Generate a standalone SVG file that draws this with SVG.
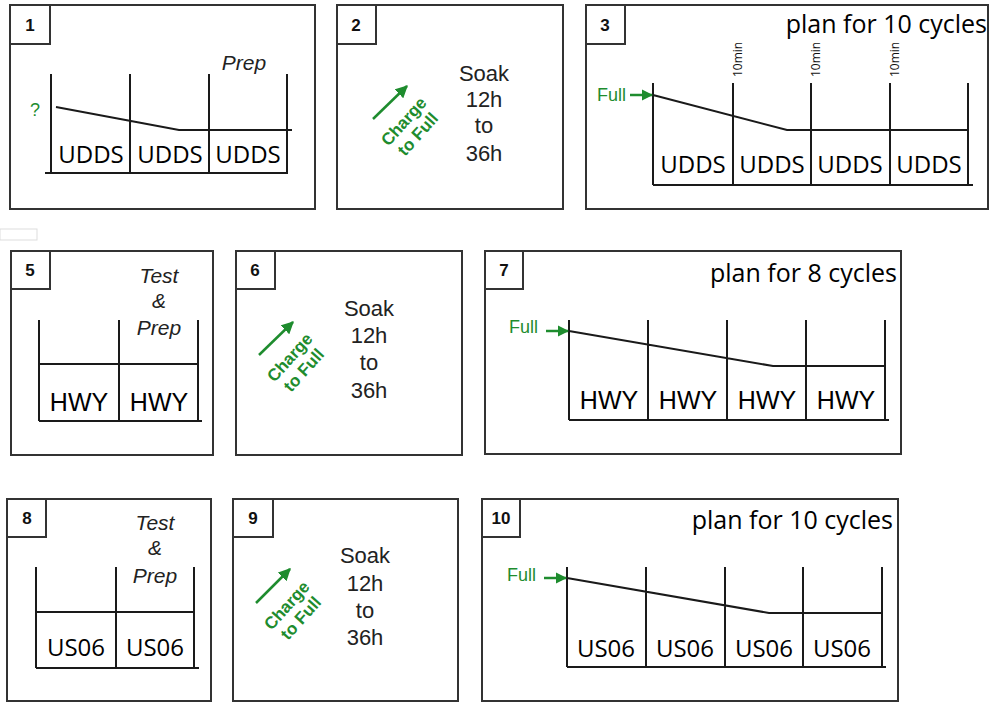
<svg xmlns="http://www.w3.org/2000/svg" width="989" height="702" viewBox="0 0 989 702">
<defs>
<marker id="ah" viewBox="0 0 10 10" refX="9" refY="5" markerWidth="5" markerHeight="5" orient="auto" markerUnits="strokeWidth">
<path d="M0,0 L10,5 L0,10 z" fill="#1e8c2e"/>
</marker>
<marker id="ah2" viewBox="0 0 10 10" refX="9" refY="5" markerWidth="4.5" markerHeight="4.5" orient="auto" markerUnits="strokeWidth">
<path d="M0,0 L10,5 L0,10 z" fill="#1e8c2e"/>
</marker>
</defs>
<style>
.frame{fill:#fff;stroke:#333;stroke-width:2}
.nbox{fill:#fff;stroke:#333;stroke-width:2}
.num{font-family:"Liberation Sans",Arial,sans-serif;font-weight:bold;font-size:17px;fill:#111;text-anchor:middle}
.ln{fill:none;stroke:#1a1a1a;stroke-width:2}
.cyc{font-family:"Open Sans",sans-serif;font-size:24px;fill:#000;text-anchor:middle}
.hwy{font-family:"Liberation Sans",Arial,sans-serif;font-size:25px;fill:#000;text-anchor:middle}
.plan{font-family:"Open Sans",sans-serif;font-size:25px;fill:#000;text-anchor:end}
.ital{font-family:"Liberation Sans",Arial,sans-serif;font-style:italic;font-size:21px;fill:#222;text-anchor:middle}
.soak{font-family:"Liberation Sans",Arial,sans-serif;font-size:22px;fill:#222;text-anchor:middle}
.chg{font-family:"Liberation Sans",Arial,sans-serif;font-weight:bold;font-size:17px;fill:#1e8c2e;text-anchor:middle}
.full{font-family:"Liberation Sans",Arial,sans-serif;font-size:18px;fill:#1e8c2e}
.garr{fill:none;stroke:#1e8c2e;stroke-width:2.5}
.tmin{font-family:"Open Sans",sans-serif;font-size:12px;fill:#111}
</style>

<rect x="0" y="229" width="37" height="11" fill="none" stroke="#ddd" stroke-width="1"/>

<g id="panel1">
<rect class="frame" x="10" y="5" width="305" height="204"/>
<rect class="nbox" x="10" y="5" width="40" height="39"/>
<text class="num" x="30" y="31">1</text>
<path class="ln" d="M51,74 V173 M130,74 V173 M209,74 V173 M287,74 V173 M45,173 H288 M56,107 L179,130 H292"/>
<text x="35" y="116" style="font-family:'Liberation Sans',Arial,sans-serif;font-size:18px;fill:#1e8c2e;text-anchor:middle">?</text>
<text class="ital" x="244" y="70">Prep</text>
<text class="cyc" x="91" y="163">UDDS</text>
<text class="cyc" x="170" y="163">UDDS</text>
<text class="cyc" x="248" y="163">UDDS</text>
</g>

<g id="panel2">
<rect class="frame" x="337" y="5" width="226" height="204"/>
<rect class="nbox" x="337" y="5" width="39" height="39"/>
<text class="num" x="356" y="31">2</text>
<line class="garr" x1="373" y1="119" x2="407" y2="86" marker-end="url(#ah)"/>
<g transform="translate(411,128) rotate(-48)">
<text class="chg" x="0" y="-4">Charge</text>
<text class="chg" x="0" y="15">to Full</text>
</g>
<text class="soak" x="484" y="81">Soak</text>
<text class="soak" x="484" y="107">12h</text>
<text class="soak" x="484" y="133">to</text>
<text class="soak" x="484" y="161">36h</text>
</g>

<g id="panel3">
<rect class="frame" x="586" y="5" width="402" height="204"/>
<rect class="nbox" x="586" y="5" width="39" height="39"/>
<text class="num" x="605" y="31">3</text>
<text class="plan" x="987" y="33">plan for 10 cycles</text>
<path class="ln" d="M653,83 V185 M733,83 V185 M811,83 V185 M890,83 V185 M968,83 V185 M653,185 H973 M653,95 L787,130 H968"/>
<text class="tmin" transform="translate(742,77) rotate(-90)">10min</text>
<text class="tmin" transform="translate(820,77) rotate(-90)">10min</text>
<text class="tmin" transform="translate(899,77) rotate(-90)">10min</text>
<text class="full" x="597" y="101">Full</text>
<line class="garr" x1="630" y1="95" x2="652" y2="95" marker-end="url(#ah2)"/>
<text class="cyc" x="693" y="173">UDDS</text>
<text class="cyc" x="772" y="173">UDDS</text>
<text class="cyc" x="850" y="173">UDDS</text>
<text class="cyc" x="929" y="173">UDDS</text>
</g>

<g id="panel5">
<rect class="frame" x="11" y="251" width="202" height="204"/>
<rect class="nbox" x="11" y="251" width="39" height="38"/>
<text class="num" x="30" y="276">5</text>
<path class="ln" d="M39,320 V421 M119,320 V421 M198,320 V421 M39,421 H202 M39,364 H198"/>
<text class="ital" x="159" y="283">Test</text>
<text class="ital" x="159" y="308">&amp;</text>
<text class="ital" x="159" y="335">Prep</text>
<text class="hwy" x="79" y="411">HWY</text>
<text class="hwy" x="159" y="411">HWY</text>
</g>

<g id="panel6">
<rect class="frame" x="236" y="251" width="226" height="204"/>
<rect class="nbox" x="236" y="251" width="39" height="38"/>
<text class="num" x="255" y="276">6</text>
<line class="garr" x1="259" y1="355" x2="293" y2="322" marker-end="url(#ah)"/>
<g transform="translate(297,364) rotate(-48)">
<text class="chg" x="0" y="-4">Charge</text>
<text class="chg" x="0" y="15">to Full</text>
</g>
<text class="soak" x="369" y="316">Soak</text>
<text class="soak" x="369" y="343">12h</text>
<text class="soak" x="369" y="370">to</text>
<text class="soak" x="369" y="398">36h</text>
</g>

<g id="panel7">
<rect class="frame" x="485" y="251" width="416" height="203"/>
<rect class="nbox" x="485" y="251" width="38" height="38"/>
<text class="num" x="504" y="276">7</text>
<text class="plan" x="897" y="282">plan for 8 cycles</text>
<path class="ln" d="M569,320 V420 M648,320 V420 M727,320 V420 M806,320 V420 M885,320 V420 M569,420 H889 M569,331 L773,366 H885"/>
<text class="full" x="509" y="333">Full</text>
<line class="garr" x1="546" y1="331" x2="568" y2="331" marker-end="url(#ah2)"/>
<text class="hwy" x="609" y="409">HWY</text>
<text class="hwy" x="688" y="409">HWY</text>
<text class="hwy" x="767" y="409">HWY</text>
<text class="hwy" x="846" y="409">HWY</text>
</g>

<g id="panel8">
<rect class="frame" x="7" y="499" width="204" height="202"/>
<rect class="nbox" x="7" y="499" width="39" height="38"/>
<text class="num" x="27" y="524">8</text>
<path class="ln" d="M36,567 V668 M116,567 V668 M194,567 V668 M36,668 H199 M36,612 H194"/>
<text class="ital" x="155" y="530">Test</text>
<text class="ital" x="155" y="555">&amp;</text>
<text class="ital" x="155" y="583">Prep</text>
<text class="cyc" x="76" y="656">US06</text>
<text class="cyc" x="155" y="656">US06</text>
</g>

<g id="panel9">
<rect class="frame" x="233" y="499" width="225" height="202"/>
<rect class="nbox" x="233" y="499" width="40" height="38"/>
<text class="num" x="253" y="524">9</text>
<line class="garr" x1="256" y1="603" x2="290" y2="569" marker-end="url(#ah)"/>
<g transform="translate(294,612) rotate(-48)">
<text class="chg" x="0" y="-4">Charge</text>
<text class="chg" x="0" y="15">to Full</text>
</g>
<text class="soak" x="365" y="563">Soak</text>
<text class="soak" x="365" y="591">12h</text>
<text class="soak" x="365" y="618">to</text>
<text class="soak" x="365" y="645">36h</text>
</g>

<g id="panel10">
<rect class="frame" x="482" y="499" width="416" height="202"/>
<rect class="nbox" x="482" y="499" width="38" height="38"/>
<text class="num" x="501" y="524">10</text>
<text class="plan" x="893" y="529">plan for 10 cycles</text>
<path class="ln" d="M567,567 V667 M646,567 V667 M725,567 V667 M803,567 V667 M882,567 V667 M567,667 H886 M567,578 L769,613 H882"/>
<text class="full" x="507" y="581">Full</text>
<line class="garr" x1="544" y1="578" x2="566" y2="578" marker-end="url(#ah2)"/>
<text class="cyc" x="606" y="657">US06</text>
<text class="cyc" x="685" y="657">US06</text>
<text class="cyc" x="764" y="657">US06</text>
<text class="cyc" x="842" y="657">US06</text>
</g>
</svg>
